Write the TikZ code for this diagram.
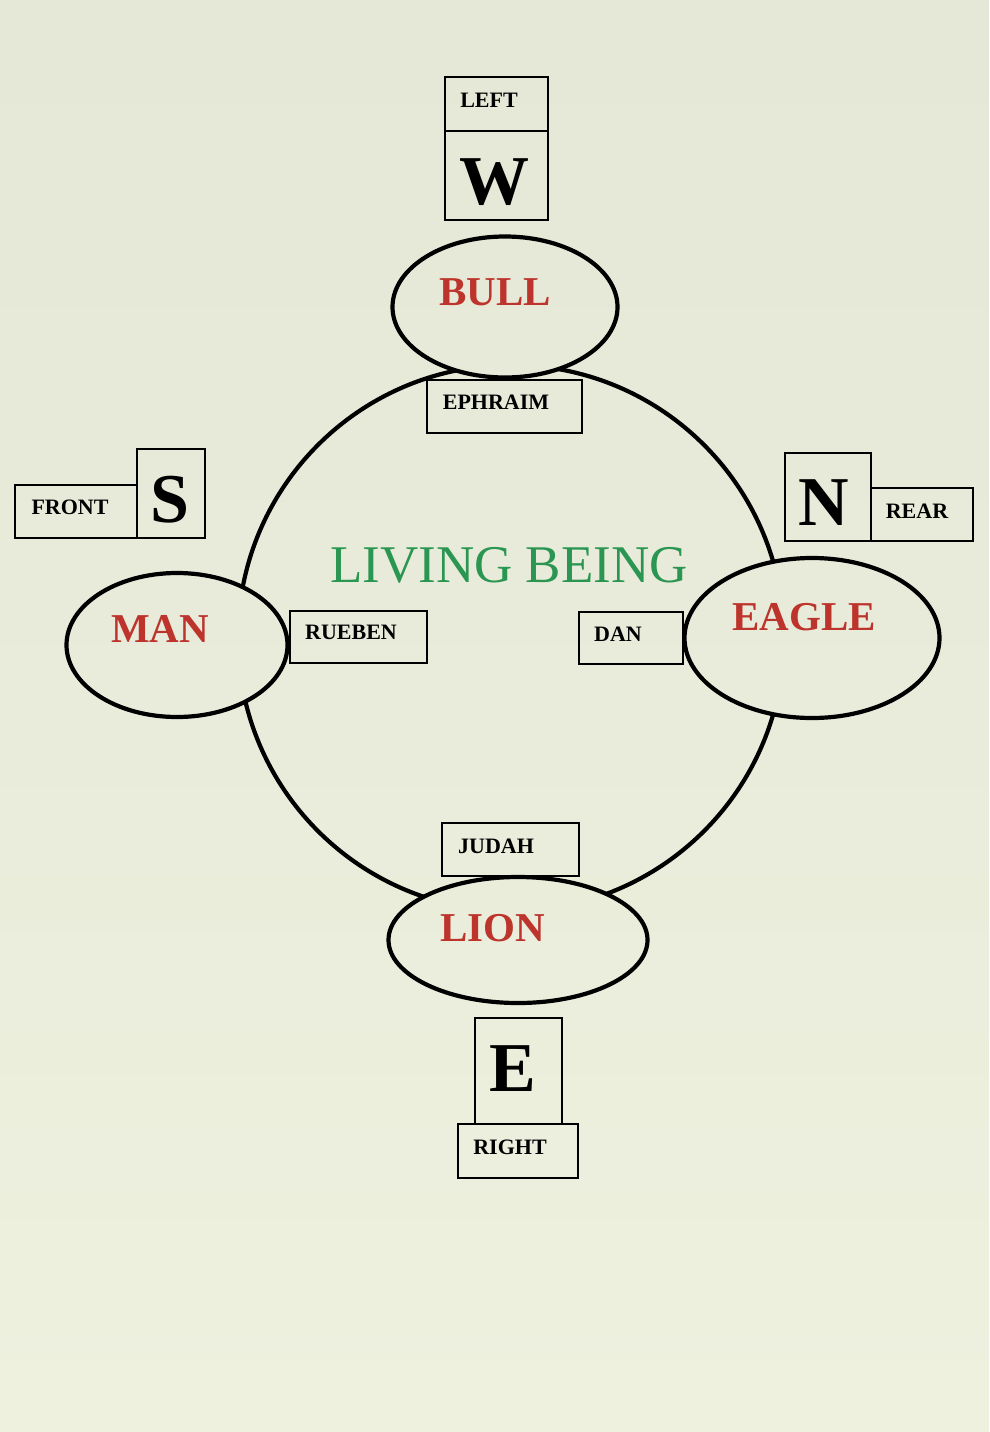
\documentclass[tikz,border=0pt]{standalone}
\usepackage{fontspec}
\setmainfont{Liberation Serif}
\usetikzlibrary{shapes.geometric}
\definecolor{bgtop}{RGB}{229,231,215}
\definecolor{bgmid}{RGB}{221,223,206}
\definecolor{bgbot}{RGB}{238,241,222}
\definecolor{beast}{RGB}{188,52,44}
\definecolor{being}{RGB}{42,150,82}
\begin{document}
\begin{tikzpicture}[x=1pt,y=-1pt,
  animal/.style={ellipse, draw=black, line width=4.2pt, inner sep=0pt},
  box/.style={rectangle, draw=black, line width=1.6pt, inner sep=0pt},
  beasttext/.style={text=beast, font=\fontsize{41}{48}\selectfont\bfseries, inner sep=0pt, text depth=0pt},
  lab/.style={font=\fontsize{22}{26}\selectfont\bfseries, inner sep=0pt, text depth=0pt},
  dirtext/.style={font=\fontsize{70}{80}\selectfont\bfseries, inner sep=0pt, text depth=0pt}]
\shade[top color=bgtop, middle color=bgmid, bottom color=bgbot] (0,0) rectangle (989,1432);
\useasboundingbox (0,0) rectangle (989,1432);

% the four beasts
\node[animal, minimum width=225pt, minimum height=141pt] (bull) at (505,307) {};
\node[beasttext] (bullt) at (495,292) {BULL};
\node[animal, minimum width=221pt, minimum height=144pt] (man) at (177,645) {};
\node[beasttext] (mant) at (160,629) {MAN};
\node[animal, minimum width=255pt, minimum height=160pt] (eagle) at (812,638) {};
\node[beasttext] (eaglet) at (804,617) {EAGLE};
\node[animal, minimum width=259pt, minimum height=126pt] (lion) at (518,940) {};
\node[beasttext] (liont) at (493,928) {LION};

% the great ring, hidden inside the four beasts
\begin{scope}[even odd rule]
  \clip (0,0) rectangle (989,1432)
    (bull.center) ellipse [x radius=112.5, y radius=70.5]
    (man.center) ellipse [x radius=110.5, y radius=72]
    (eagle.center) ellipse [x radius=127.5, y radius=80]
    (lion.center) ellipse [x radius=129.5, y radius=63];
  \node[circle, draw=black, line width=4.2pt, minimum size=546pt, inner sep=0pt] (ring) at (511,638) {};
\end{scope}
\node[text=being, font=\fontsize{53}{60}\selectfont, inner sep=0pt, text depth=0pt] (living) at (509,565) {LIVING BEING};

% top: LEFT / W / EPHRAIM
\node[box, minimum width=103pt, minimum height=54pt] (left) at (496.5,104) {};
\node[lab] (leftt) at (489,100) {LEFT};
\node[box, minimum width=103pt, minimum height=89pt] (w) at (496.5,175.5) {};
\node[dirtext] (wt) at (494,182) {W};
\node[box, minimum width=155pt, minimum height=53pt] (ephraim) at (504.5,406.5) {};
\node[lab] (ephraimt) at (496,402.5) {EPHRAIM};

% left: FRONT / S / RUEBEN
\node[box, minimum width=122pt, minimum height=53pt] (front) at (76,511.5) {};
\node[lab] (frontt) at (70,507) {FRONT};
\node[box, minimum width=68pt, minimum height=89pt] (s) at (171,493.5) {};
\node[dirtext] (st) at (170,499) {S};
\node[box, minimum width=137pt, minimum height=52pt] (rueben) at (358.5,637) {};
\node[lab] (ruebent) at (351,632) {RUEBEN};

% right: N / REAR / DAN
\node[box, minimum width=86pt, minimum height=88pt] (n) at (828,497) {};
\node[dirtext] (nt) at (824,503) {N};
\node[box, minimum width=102pt, minimum height=53pt] (rear) at (922,514.5) {};
\node[lab] (reart) at (917,511) {REAR};
\node[box, minimum width=104pt, minimum height=52pt] (dan) at (631,638) {};
\node[lab] (dant) at (618,634) {DAN};

% bottom: JUDAH / E / RIGHT
\node[box, minimum width=137pt, minimum height=53pt] (judah) at (510.5,849.5) {};
\node[lab] (judaht) at (496,846) {JUDAH};
\node[box, minimum width=87pt, minimum height=106pt] (e) at (518.5,1071) {};
\node[dirtext] (et) at (512.5,1069) {E};
\node[box, minimum width=120pt, minimum height=54pt] (right) at (518,1151) {};
\node[lab] (rightt) at (510,1147) {RIGHT};
\end{tikzpicture}
\end{document}
